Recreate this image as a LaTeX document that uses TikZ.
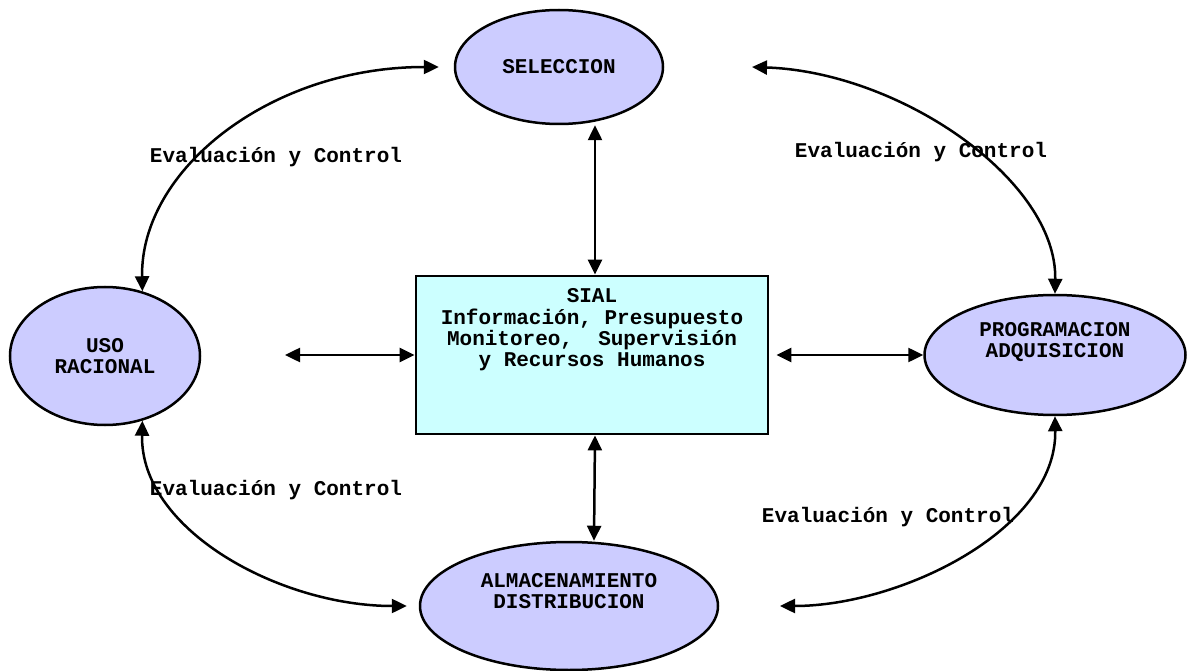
\documentclass[tikz,border=0pt]{standalone}
\usepackage{fontspec}
\newfontfamily\courfont{Liberation Mono}
\usetikzlibrary{positioning,arrows.meta,shapes.geometric}
\definecolor{lila}{RGB}{204,204,255}
\definecolor{celeste}{RGB}{204,255,255}

\begin{document}
\begin{tikzpicture}[x=1pt,y=-1pt,
  font={\courfont\fontsize{21}{21.4}\selectfont\bfseries},
  fase/.style={ellipse,draw,line width=2.5pt,fill=lila,inner sep=0pt},
  sialbox/.style={rectangle,draw,line width=2.8pt,fill=celeste,inner sep=0pt,
    minimum width=352pt,minimum height=158pt},
  txt/.style={align=center,inner sep=0pt},
  con/.style={line width=2.5pt,>={Triangle[length=15pt,width=14pt]},<->}]
  \useasboundingbox (0,0) rectangle (1187,671);
  % fases del ciclo
  \node[fase,minimum width=208pt,minimum height=114pt] (sel) at (559,67) {};
  \node[fase,minimum width=190pt,minimum height=138pt] (uso) at (105,356) {};
  \node[fase,minimum width=261pt,minimum height=120pt] (prog) at (1055,355) {};
  \node[fase,minimum width=298pt,minimum height=128pt] (alm) at (569,606) {};
  \node[sialbox] (sial) at (592,355) {};
  \node[txt] (selT) at (sel.center) {SELECCION};
  \node[txt] (usoT) at (uso.center) {USO\\RACIONAL};
  \node[txt] (progT) at ([yshift=13pt]prog.center) {PROGRAMACION\\ADQUISICION};
  \node[txt] (almT) at ([yshift=15pt]alm.center) {ALMACENAMIENTO\\DISTRIBUCION};
  \node[txt] (sialT) at (592,330) {SIAL\\Información, Presupuesto\\Monitoreo,~ Supervisión\\y Recursos Humanos};
  % extremos libres
  \coordinate (izq) at (285,355);
  \coordinate (tr) at (752,67);
  \coordinate (br) at (780,606);
  % conexiones con el SIAL
  \draw[con] ([xshift=3pt]sial.north |- sel.south) -- ([xshift=3pt]sial.north);
  \draw[con] ([xshift=3pt]sial.south) -- ([xshift=2pt]sial.south |- alm.north);
  \draw[con] (izq) -- (sial.west);
  \draw[con] ([xshift=7pt]sial.east) -- (prog.west);
  % evaluacion y control
  \draw[con] (uso.60) .. controls (140,170) and (270,67) .. ([xshift=-15pt]sel.west);
  \draw[con] (tr) .. controls (900,72) and (1057,180) .. (prog.north);
  \draw[con] (uso.-60) .. controls (140,530) and (280,606) .. ([xshift=-12pt]alm.west);
  \draw[con] (prog.south) .. controls (1057,530) and (900,606) .. (br);
  \node[txt] (ev1) at (276,157) {Evaluación y Control};
  \node[txt] (ev2) at (921,152) {Evaluación y Control};
  \node[txt] (ev3) at (276,490) {Evaluación y Control};
  \node[txt] (ev4) at (888,517) {Evaluación y Control};
\end{tikzpicture}
\end{document}
